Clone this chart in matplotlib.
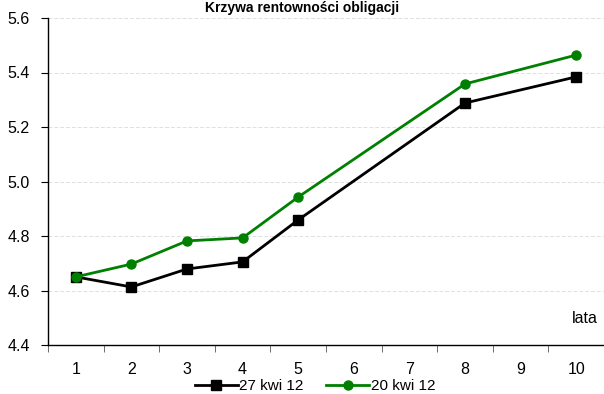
import matplotlib
matplotlib.use("Agg")
import matplotlib.pyplot as plt
import numpy as np

plt.rcParams['font.family'] = ['Liberation Sans', 'DejaVu Sans']

categories = ["1", "2", "3", "4", "5", "6", "7", "8", "9", "10"]
x_years = [1, 2, 3, 4, 5, 8, 10]
s1_label = "27 kwi 12"
s1_values = [4.65, 4.613, 4.679, 4.705, 4.859, 5.288, 5.384]
s2_label = "20 kwi 12"
s2_values = [4.65, 4.697, 4.782, 4.793, 4.943, 5.358, 5.464]
y_ticks = [4.4, 4.6, 4.8, 5.0, 5.2, 5.4, 5.6]

fig = plt.figure(figsize=(6.04, 3.94), dpi=100)
ax = fig.add_axes([48/604, 1-345/394, 1-48/604, (345-18)/394])

ax.plot(x_years, s1_values, color='black', lw=2, marker='s', markersize=7.5,
        label=s1_label, zorder=3)
ax.plot(x_years, s2_values, color='#008000', lw=2, marker='o', markersize=6.5,
        label=s2_label, zorder=4)

ax.set_xlim(0.5, 10.5)
ax.set_ylim(4.4, 5.6)
ax.set_yticks(y_ticks)
ax.set_yticklabels([f"{v:.1f}" for v in y_ticks])
ax.set_xticks(range(1, 11))
ax.set_xticklabels(categories)
ax.set_xticks(np.arange(0.5, 11, 1), minor=True)
ax.tick_params(axis='x', which='major', length=0, pad=12, labelsize=11.5)
ax.tick_params(axis='x', which='minor', length=5, color='#555555', direction='out')
ax.tick_params(axis='y', length=5, labelsize=11.5, pad=8)

for v in y_ticks[1:]:
    ax.axhline(v, color='#e0e0e0', lw=0.7, ls=(0, (4, 2)), zorder=1)

for s in ['top', 'right']:
    ax.spines[s].set_visible(False)
ax.spines['left'].set_linewidth(1)
ax.spines['bottom'].set_linewidth(1)

ax.text(0.965, 0.08, "lata", transform=ax.transAxes, ha='center',
        va='center', fontsize=11.5)

fig.text(0.5, 1-1/394, "Krzywa rentowności obligacji", ha='center',
         va='top', fontsize=10, fontweight='bold')

fig.legend(loc='center', bbox_to_anchor=(315/604, 1-386/394), ncol=2,
           frameon=False, fontsize=11, handlelength=2.8, columnspacing=1.5,
           handletextpad=0.1, borderpad=0)

fig.savefig("out.png", dpi=100)
